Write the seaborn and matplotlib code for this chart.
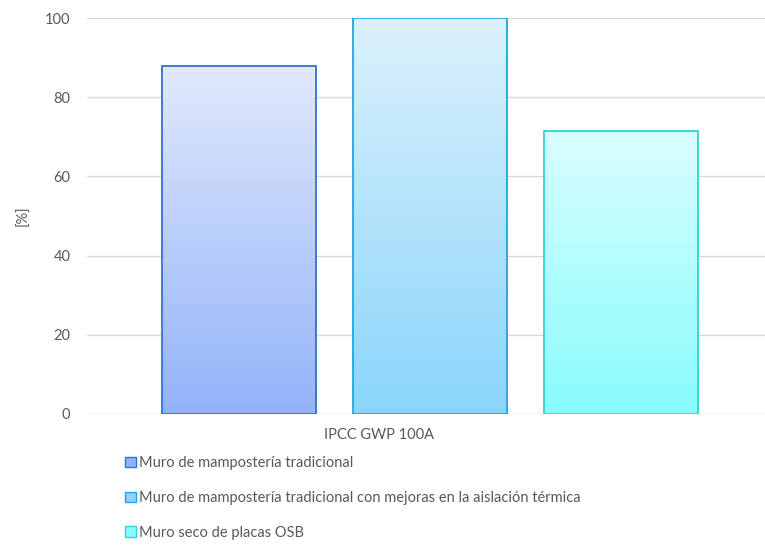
import numpy as np
import pandas as pd
import matplotlib
matplotlib.use("Agg")
import matplotlib.pyplot as plt
from matplotlib.colors import LinearSegmentedColormap
from matplotlib.patches import Patch
import seaborn as sns

# data
indicador = ["IPCC GWP 100A"]
muros = [
    "Muro de mampostería tradicional",
    "Muro de mampostería tradicional con mejoras en la aislación térmica",
    "Muro seco de placas OSB",
]
valores = [88.0, 100.0, 71.5]
y_ticks = [0, 20, 40, 60, 80, 100]

# colours: gradient top / bottom and outline per series
top_colors = ["#E1E9FC", "#DCF1FC", "#DAFEFE"]
bottom_colors = ["#93B3FA", "#8AD5FB", "#88FCFC"]
edge_colors = ["#2F74D4", "#22A6DF", "#30D3D6"]

TEXT = "#595959"

def main():
    sns.set_style("white")
    plt.rcParams["font.family"] = ["Lato", "DejaVu Sans"]

    df = pd.DataFrame({
        "indicador": indicador * len(muros),
        "muro": muros,
        "valor": valores,
    })

    fig = plt.figure(figsize=(7.65, 5.45), dpi=100)
    ax = fig.add_axes([0.1137, 0.2404, 0.8863, 0.7264])

    sns.barplot(data=df, x="indicador", y="valor", hue="muro", hue_order=muros,
                palette=edge_colors, width=0.845, gap=0.19, legend=False,
                linewidth=1.3, ax=ax, zorder=3)

    # gradient fill clipped to each bar
    bars = [p for p in ax.patches]
    for bar, muro in zip(bars, muros):
        i = muros.index(muro)
        bar.set_edgecolor(edge_colors[i])
        bar.set_facecolor("none")
        cmap = LinearSegmentedColormap.from_list("g", [bottom_colors[i], top_colors[i]])
        x0, y0 = bar.get_x(), bar.get_y()
        w, h = bar.get_width(), bar.get_height()
        grad = np.linspace(0, 1, 256).reshape(-1, 1)
        im = ax.imshow(grad, cmap=cmap, origin="lower", aspect="auto",
                       extent=[x0, x0 + w, y0, y0 + h], zorder=2)
        im.set_clip_path(bar)

    ax.set_xlim(-0.506, 0.494)
    ax.set_ylim(0, 100)
    ax.set_yticks(y_ticks)
    ax.yaxis.grid(True, color="#D9D9D9", linewidth=1.0, zorder=0)
    ax.set_axisbelow(True)
    for s in ax.spines.values():
        s.set_visible(False)
    ax.tick_params(axis="y", length=0, pad=12, labelsize=10.5, labelcolor=TEXT)
    ax.tick_params(axis="x", length=0, labelbottom=False)

    ax.set_ylabel("[%]", fontsize=10.5, color=TEXT, labelpad=10)
    ax.set_xlabel(indicador[0], fontsize=10.5, color=TEXT)
    ax.xaxis.set_label_coords(0.43, -0.035)

    handles = [Patch(facecolor=bottom_colors[i], edgecolor=edge_colors[i], linewidth=1.0)
               for i in range(len(muros))]
    fig.legend(handles, muros, loc="upper left", bbox_to_anchor=(0.164, 0.163),
               frameon=False, fontsize=10.5, labelcolor=TEXT, labelspacing=1.42,
               handlelength=0.7, handleheight=0.7, handletextpad=0.25, borderaxespad=0,
               borderpad=0)

    fig.savefig("out.png", dpi=100)
    plt.close(fig)

if __name__ == "__main__":
    main()
